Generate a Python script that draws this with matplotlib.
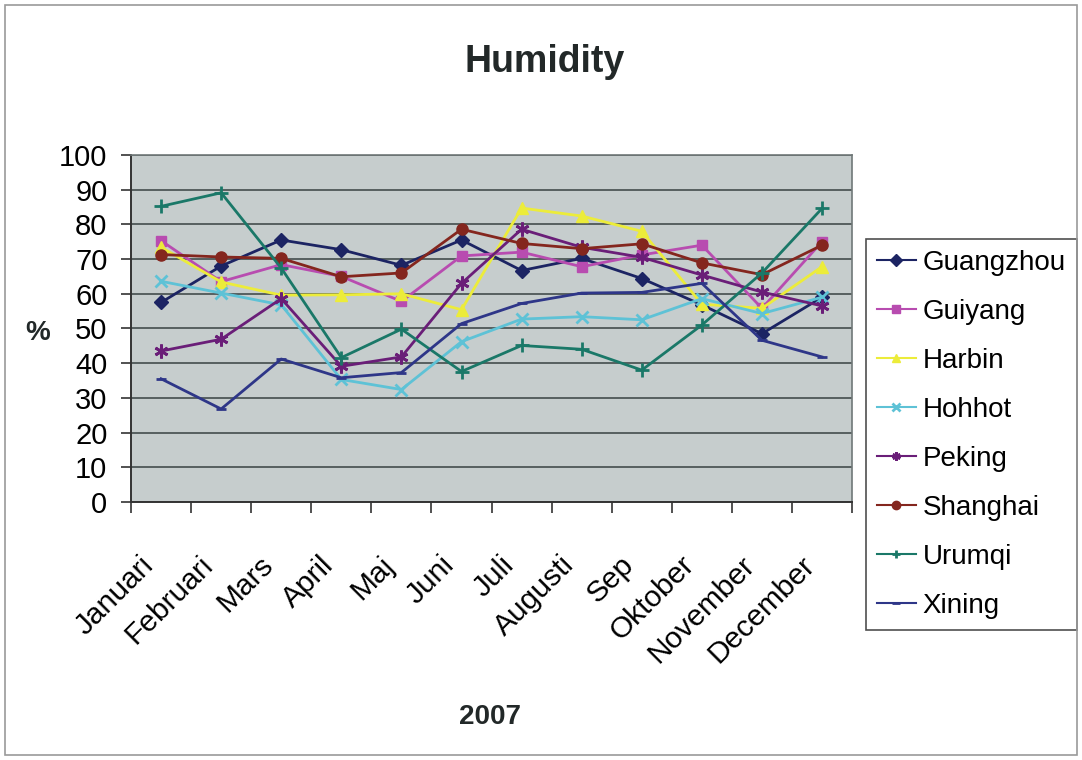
import matplotlib.pyplot as plt
import numpy as np
from matplotlib.patches import Rectangle
from matplotlib.transforms import ScaledTranslation

plt.rcParams['font.family'] = ['Liberation Sans', 'DejaVu Sans']

months = ['Januari', 'Februari', 'Mars', 'April', 'Maj', 'Juni', 'Juli',
          'Augusti', 'Sep', 'Oktober', 'November', 'December']

# humidity per city, %
guangzhou = [57.5, 68, 75.5, 72.7, 68.2, 75.5, 66.7, 70.2, 64.4, 56.8, 48.5, 59]
guiyang = [75.3, 63.5, 68.4, 65, 57.8, 70.9, 72, 67.8, 71.2, 74, 55.8, 75]
harbin = [73.4, 63.4, 59.6, 59.7, 60, 55.4, 84.7, 82.4, 78, 57, 55.8, 67.8]
hohhot = [63.6, 60.2, 56.8, 35.3, 32.4, 46.2, 52.7, 53.4, 52.5, 58.6, 54.3, 59]
peking = [43.5, 46.9, 58.6, 39.1, 41.8, 63, 78.6, 73.4, 70.5, 65.4, 60.5, 56.5]
shanghai = [71.3, 70.6, 70.2, 64.9, 66, 78.6, 74.5, 73, 74.4, 68.9, 65.5, 74]
urumqi = [85.2, 89.1, 67.4, 41.6, 49.8, 37.6, 45.1, 44, 38, 51, 66, 84.6]
xining = [35.5, 26.8, 41.2, 35.8, 37.3, 51.4, 57.2, 60.2, 60.4, 63, 46.6, 41.8]

series = [
    ('Guangzhou', guangzhou, '#1c2463', 'D', 7),
    ('Guiyang', guiyang, '#b84cb0', 's', 7),
    ('Harbin', harbin, '#ecec3a', '^', 8),
    ('Hohhot', hohhot, '#5ec2d6', 'x', 8),
    ('Peking', peking, '#6a1e78', (6, 2, 0), 10),
    ('Shanghai', shanghai, '#84261e', 'o', 8),
    ('Urumqi', urumqi, '#1a7868', '+', 10),
    ('Xining', xining, '#2e3688', '_', 7),
]

fig = plt.figure(figsize=(10.82, 7.6), dpi=100)
fig.patches.append(Rectangle((0.005, 0.006), 0.99, 0.988, transform=fig.transFigure,
                             fill=False, edgecolor='#9a9a9a', linewidth=1.2))

ax = fig.add_axes([0.1211, 0.3395, 0.6664, 0.4566])
ax.set_facecolor('#c6cdcd')

x = np.arange(len(months))
for name, vals, col, mk, ms in series:
    ax.plot(x, vals, color=col, marker=mk, markersize=ms, linewidth=2,
            markeredgewidth=2 if mk in ('x', '+', '_', (6, 2, 0)) else 1,
            markeredgecolor=col, markerfacecolor=col, label=name)

ax.set_xlim(-0.5, len(months) - 0.5)
ax.set_ylim(0, 100)
ax.set_yticks(np.arange(0, 101, 10))
ax.yaxis.grid(True, color='#566060', linewidth=1.4)
ax.set_axisbelow(True)

# tick marks between categories, labels at category centres
ax.set_xticks(np.arange(-0.5, len(months), 1))
ax.set_xticklabels([])
ax.set_xticks(x, minor=True)
ax.set_xticklabels(months, minor=True, rotation=45, ha='right', va='top',
                   rotation_mode='anchor', fontsize=21.5)
ax.tick_params(axis='x', which='major', length=8, width=1.2, color='#333333')
ax.tick_params(axis='x', which='minor', length=0, pad=35)
ax.tick_params(axis='y', length=7, width=1.2, color='#333333', labelsize=21, pad=10)
shift = ScaledTranslation(-0.22, 0, fig.dpi_scale_trans)
for lbl in ax.xaxis.get_minorticklabels():
    lbl.set_transform(lbl.get_transform() + shift)

for side in ['top', 'right']:
    ax.spines[side].set_color('#707878')
    ax.spines[side].set_linewidth(1.2)
for side in ['left', 'bottom']:
    ax.spines[side].set_color('#333333')
    ax.spines[side].set_linewidth(1.4)

fig.text(0.503, 0.918, 'Humidity', ha='center', va='center', fontsize=27,
         fontweight='bold', color='#222828')
fig.text(0.035, 0.562, '%', ha='center', va='center', fontsize=20,
         fontweight='bold', color='#222828')
fig.text(0.453, 0.056, '2007', ha='center', va='center', fontsize=20,
         fontweight='bold', color='#222828')

leg = ax.legend(loc='upper left', bbox_to_anchor=(0.800, 0.686),
                bbox_transform=fig.transFigure, fontsize=20, frameon=True,
                fancybox=False, edgecolor='#222222', labelspacing=0.83,
                handlelength=1.4, handletextpad=0.25, borderpad=0.4,
                borderaxespad=0)
leg.get_frame().set_linewidth(1.2)
for h in leg.legend_handles:
    h.set_markersize(6)
    h.set_linewidth(1.5)

fig.savefig('out.png', dpi=100)
